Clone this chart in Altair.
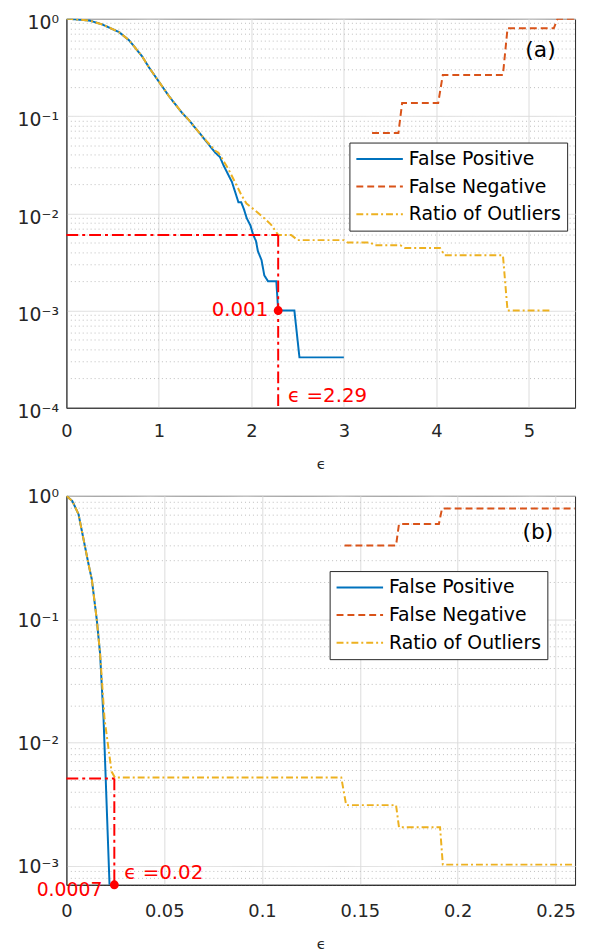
import altair as alt
import pandas as pd

SERIES = ["False Positive", "False Negative", "Ratio of Outliers"]
COLORS = ["#0072BD", "#D95319", "#EDB120"]
DASHES = [[1, 0], [7, 4], [7, 3, 2, 3]]

# ---------------- panel (a) ----------------
a_fp_x = [0, 0.04, 0.25, 0.39, 0.57, 0.68, 0.82, 0.89, 1.0, 1.11, 1.25, 1.32, 1.465, 1.61,
          1.66, 1.70, 1.75, 1.79, 1.83, 1.86, 1.89, 1.92, 1.95, 1.99, 2.02, 2.05, 2.07,
          2.11, 2.14, 2.18, 2.27, 2.29, 2.465, 2.52, 3.0]
a_fp_y = [1.0, 1.0, 0.96, 0.875, 0.73, 0.60, 0.41, 0.32, 0.226, 0.16, 0.108, 0.092, 0.0625, 0.042,
          0.038, 0.031, 0.025, 0.021, 0.016, 0.013, 0.013, 0.011, 0.0089, 0.0075, 0.006, 0.0052, 0.0041,
          0.0033, 0.0023, 0.002, 0.002, 0.001, 0.001, 0.00033, 0.00033]

a_fn_x = [3.305, 3.59, 3.63, 4.02, 4.07, 4.72, 4.77, 5.27, 5.31, 5.5]
a_fn_y = [0.067, 0.067, 0.136, 0.136, 0.265, 0.265, 0.80, 0.80, 1.0, 1.0]

a_ro_x = [0, 0.04, 0.25, 0.39, 0.57, 0.68, 0.82, 0.89, 1.0, 1.11, 1.25, 1.32, 1.465, 1.61,
          1.644, 1.751, 1.822, 1.894, 1.947, 2.036, 2.14, 2.215, 2.29, 2.43, 2.50, 3.0, 3.04,
          3.29, 3.33, 3.61, 3.66, 4.04, 4.09, 4.72, 4.77, 5.25]
a_ro_y = [1.0, 1.0, 0.96, 0.875, 0.73, 0.60, 0.41, 0.32, 0.226, 0.16, 0.108, 0.092, 0.0625, 0.044,
          0.042, 0.0286, 0.021, 0.0153, 0.0126, 0.0108, 0.0089, 0.0076, 0.006, 0.006, 0.0053, 0.0053, 0.005,
          0.005, 0.0047, 0.0047, 0.0044, 0.0044, 0.0037, 0.0037, 0.001, 0.001]

a_ref_x = [0, 2.29]
a_ref_x2 = [2.29, 2.29]
a_ref_y = [0.006, 0.006]
a_ref_y2 = [0.006, 0.0001]
a_dot = (2.29, 0.001)
a_dot_label = "0.001"
a_eps_label = "ϵ =2.29"
a_tag = ("(a)", 5.29, 0.48)

# ---------------- panel (b) ----------------
b_fp_x = [0, 0.003, 0.0062, 0.0079, 0.0113, 0.013, 0.0155, 0.0172, 0.0190, 0.0222]
b_fp_y = [1.0, 0.91, 0.71, 0.52, 0.28, 0.21, 0.1, 0.053, 0.0155, 0.0006]

b_fn_x = [0.1422, 0.1685, 0.170, 0.1904, 0.192, 0.26]
b_fn_y = [0.396, 0.396, 0.59, 0.59, 0.79, 0.79]

b_ro_x = [0, 0.003, 0.0062, 0.0079, 0.0113, 0.013, 0.0155, 0.0172, 0.0195, 0.0231, 0.0248,
          0.1405, 0.143, 0.1685, 0.170, 0.191, 0.1924, 0.26]
b_ro_y = [1.0, 0.91, 0.71, 0.52, 0.28, 0.21, 0.1, 0.053, 0.0155, 0.0058, 0.0052,
          0.0052, 0.0031, 0.0031, 0.00205, 0.00205, 0.00102, 0.00102]

b_ref_x = [0, 0.0245]
b_ref_x2 = [0.0245, 0.0245]
b_ref_y = [0.0051, 0.0051]
b_ref_y2 = [0.0051, 0.0007]
b_dot = (0.0245, 0.0007)
b_dot_label = "0.0007"
b_eps_label = "ϵ =0.02"
b_tag = ("(b)", 0.2489, 0.504)

MAJORS = [1, 0.1, 0.01, 0.001, 0.0001]
SUP = {1: "10⁰", 0.1: "10⁻¹", 0.01: "10⁻²", 0.001: "10⁻³", 0.0001: "10⁻⁴"}

FONT = "DejaVu Sans"
AXC = "#262626"


def long_df(parts):
    frames = []
    for name, xs, ys in parts:
        frames.append(pd.DataFrame({"x": xs, "y": ys, "series": name, "order": list(range(len(xs)))}))
    return pd.concat(frames, ignore_index=True)


def y_ticks(lo):
    vals = []
    for m in MAJORS[::-1]:
        for k in range(1, 10):
            v = m * k if k > 1 else m
            if lo * 0.999 <= v <= 1.0001:
                vals.append(v)
    return vals


MAJOR_TEST = "indexof([1,0.1,0.01,0.001,0.0001], datum.value) >= 0"
LABEL_EXPR = " : ".join([f"datum.value == {m} ? '{SUP[m]}'" for m in MAJORS]) + " : ''"


def panel(parts, xdom, xvals, ylo, refs, dot, dot_label, eps_label, tag, legend_xy,
          dot_dx, dot_dy, dot_fs, ylab_off, xlab_pad):
    df = long_df(parts)
    xs = alt.Scale(domain=xdom, nice=False, zero=False)
    ys = alt.Scale(type="log", domain=[ylo, 1], nice=False)
    x_axis = alt.Axis(values=xvals, format="~g", grid=True, gridColor="#DCDCDC", ticks=False,
                      labelFont=FONT, labelFontSize=18, labelColor=AXC, labelPadding=xlab_pad,
                      domainColor=AXC, title="ϵ", titleFont=FONT, titleFontSize=15,
                      titleFontWeight="normal", titleColor=AXC, titlePadding=16,
                      labelFlush=False, labelOverlap=False)
    y_axis = alt.Axis(values=y_ticks(ylo), grid=True, ticks=False,
                      gridDash={"condition": {"test": MAJOR_TEST, "value": [1, 0]}, "value": [1, 3]},
                      gridColor={"condition": {"test": MAJOR_TEST, "value": "#DCDCDC"}, "value": "#BDBDBD"},
                      labelExpr=LABEL_EXPR, labelFont=FONT, labelFontSize=19, labelColor=AXC,
                      labelPadding=8, labelOffset=ylab_off, domainColor=AXC, title=None,
                      labelOverlap=False, labelFlush=False)
    leg = alt.Legend(title=None, orient="none", legendX=legend_xy[0], legendY=legend_xy[1],
                     strokeColor=AXC, fillColor="white", padding=6, labelFont=FONT,
                     labelFontSize=19, labelColor="black", symbolType="stroke",
                     symbolSize=2209, symbolStrokeWidth=2, labelOffset=5, rowPadding=7,
                     clipHeight=21)
    lines = alt.Chart(df).mark_line(strokeWidth=2, clip=True).encode(
        x=alt.X("x:Q", scale=xs, axis=x_axis),
        y=alt.Y("y:Q", scale=ys, axis=y_axis),
        color=alt.Color("series:N", scale=alt.Scale(domain=SERIES, range=COLORS), legend=leg),
        strokeDash=alt.StrokeDash("series:N", scale=alt.Scale(domain=SERIES, range=DASHES), legend=leg),
        order="order:Q",
    )
    rdf = pd.DataFrame({"x": refs[0], "x2": refs[1], "y": refs[2], "y2": refs[3]})
    rule = alt.Chart(rdf).mark_rule(color="#FF0000", strokeWidth=2, strokeDash=[12, 4, 3, 4]).encode(
        x=alt.X("x:Q", scale=xs), x2="x2:Q", y=alt.Y("y:Q", scale=ys), y2="y2:Q")
    ddf = pd.DataFrame({"x": [dot[0]], "y": [dot[1]], "lab": [dot_label], "eps": [eps_label]})
    pt = alt.Chart(ddf).mark_circle(color="#FF0000", size=80, opacity=1, clip=False).encode(
        x=alt.X("x:Q", scale=xs), y=alt.Y("y:Q", scale=ys))
    t1 = alt.Chart(ddf).mark_text(color="#FF0000", font=FONT, fontSize=dot_fs, align="right",
                                  baseline="middle", dx=dot_dx, dy=dot_dy).encode(
        x=alt.X("x:Q", scale=xs), y=alt.Y("y:Q", scale=ys), text="lab:N")
    bdf = pd.DataFrame({"x": [dot[0]], "y": [ylo], "eps": [eps_label]})
    t2 = alt.Chart(bdf).mark_text(color="#FF0000", font=FONT, fontSize=20, align="left",
                                  baseline="alphabetic", dx=10, dy=-6).encode(
        x=alt.X("x:Q", scale=xs), y=alt.Y("y:Q", scale=ys), text="eps:N")
    tdf = pd.DataFrame({"x": [tag[1]], "y": [tag[2]], "t": [tag[0]]})
    t3 = alt.Chart(tdf).mark_text(color="black", font=FONT, fontSize=22, align="right",
                                  baseline="middle").encode(
        x=alt.X("x:Q", scale=xs), y=alt.Y("y:Q", scale=ys), text="t:N")
    return alt.layer(lines, rule, pt, t1, t2, t3).properties(width=514, height=393)


pa = panel([("False Positive", a_fp_x, a_fp_y), ("False Negative", a_fn_x, a_fn_y),
            ("Ratio of Outliers", a_ro_x, a_ro_y)],
           [0, 5.5], [0, 1, 2, 3, 4, 5], 0.0001,
           (a_ref_x, a_ref_x2, a_ref_y, a_ref_y2), a_dot, a_dot_label, a_eps_label, a_tag,
           (286, 125), -10, 0, 20, 4, 15)
pb = panel([("False Positive", b_fp_x, b_fp_y), ("False Negative", b_fn_x, b_fn_y),
            ("Ratio of Outliers", b_ro_x, b_ro_y)],
           [0, 0.26], [0, 0.05, 0.1, 0.15, 0.2, 0.25], 0.0007,
           (b_ref_x, b_ref_x2, b_ref_y, b_ref_y2), b_dot, b_dot_label, b_eps_label, b_tag,
           (266, 76), -12, 5, 19, 1, 18)

chart = alt.vconcat(pa, pb, spacing=15).resolve_scale(
    x="independent", y="independent", color="independent", strokeDash="independent"
).resolve_legend(color="independent", strokeDash="independent").configure_view(
    stroke=AXC, strokeWidth=1
).properties(padding={"left": 8, "top": 0, "right": 5, "bottom": 0}, background="white")

chart.save("out.html", embed_options={"renderer": "svg", "actions": False})
